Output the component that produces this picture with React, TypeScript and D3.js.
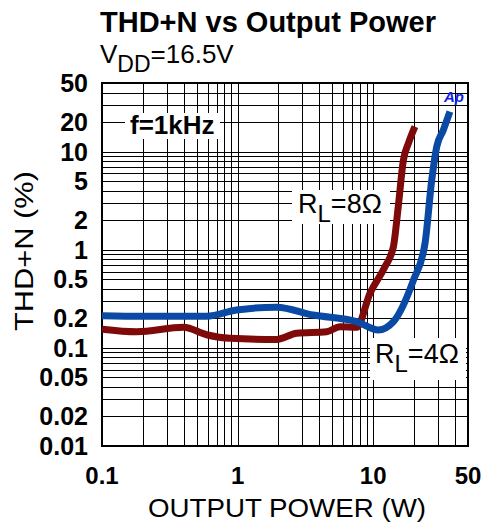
import * as d3 from 'd3'

// THD+N (%) vs output power (W), f = 1kHz, VDD = 16.5V
const powerRL4 = [0.1, 0.2, 0.59, 0.98, 1.94, 3.6, 7.55, 10.9, 14.1, 19.8, 24.1, 27, 29.4, 32.9, 36.8]
const thdRL4 = [0.213, 0.21, 0.21, 0.243, 0.26, 0.216, 0.185, 0.152, 0.185, 0.49, 1.16, 5.1, 11.2, 16.6, 25.6]

const powerRL8 = [0.1, 0.18, 0.4, 0.59, 0.88, 1.94, 2.73, 4.54, 5.69, 7.55, 9.47, 12.2, 14.1, 15.3, 16.7, 18.2, 20.3]
const thdRL8 = [0.155, 0.146, 0.162, 0.136, 0.125, 0.122, 0.141, 0.146, 0.164, 0.162, 0.36, 0.67, 1.08, 2.75, 8.2, 12.2, 18]

const yTicks = [50, 20, 10, 5, 2, 1, 0.5, 0.2, 0.1, 0.05, 0.02, 0.01]
const xTicks = [0.1, 1, 10, 50]

const W = 489
const H = 527
const m = { top: 83, right: 21, bottom: 81, left: 102 }

export default function App() {
  const x = d3.scaleLog().domain([0.1, 50]).range([m.left, W - m.right])
  const y = d3.scaleLog().domain([0.01, 50]).range([H - m.bottom, m.top])

  // log grid: every integer multiple within each decade
  const xGrid: number[] = []
  for (const dec of [0.1, 1, 10]) for (let k = 1; k <= 9; k++) if (dec * k <= 50) xGrid.push(dec * k)
  const yGrid: number[] = []
  for (const dec of [0.01, 0.1, 1, 10]) for (let k = 1; k <= 9; k++) if (dec * k <= 50) yGrid.push(dec * k)

  const line = d3
    .line<[number, number]>()
    .x((d) => x(d[0]))
    .y((d) => y(d[1]))
    .curve(d3.curveMonotoneX)

  const font = 'Liberation Sans, Arial, sans-serif'
  const [x0, x1] = x.range()
  const [y0, y1] = y.range()

  return (
    <svg width={W} height={H} style={{ position: 'absolute', left: 0, top: 0 }} fontFamily={font}>
      <rect width={W} height={H} fill="#fff" />
      <g stroke="#000" strokeWidth={1}>
        {xGrid.map((v) => (
          <line key={'x' + v} x1={Math.round(x(v)) + 0.5} x2={Math.round(x(v)) + 0.5} y1={y1} y2={y0} />
        ))}
        {yGrid.map((v) => (
          <line key={'y' + v} y1={Math.round(y(v)) + 0.5} y2={Math.round(y(v)) + 0.5} x1={x0} x2={x1} />
        ))}
      </g>
      <rect x={x0} y={y1} width={x1 - x0} height={y0 - y1} fill="none" stroke="#000" strokeWidth={2} />

      {/* labels with white boxes */}
      <rect x={125} y={113} width={95} height={26} fill="#fff" />
      <text x={130} y={134} fontSize={26} fontWeight="bold">f=1kHz</text>

      <rect x={292} y={190} width={98} height={34} fill="#fff" />
      <text x={298} y={213} fontSize={27}>
        R<tspan fontSize={24} dy={9}>L</tspan><tspan dy={-9}>=8Ω</tspan>
      </text>

      <rect x={370} y={338} width={96} height={42} fill="#fff" />
      <text x={375} y={363} fontSize={27}>
        R<tspan fontSize={24} dy={9}>L</tspan><tspan dy={-9}>=4Ω</tspan>
      </text>

      <path
        d={line(powerRL8.map((p, i) => [p, thdRL8[i]] as [number, number])) ?? ''}
        fill="none"
        stroke="#7f0a0a"
        strokeWidth={7}
      />
      <path
        d={line(powerRL4.map((p, i) => [p, thdRL4[i]] as [number, number])) ?? ''}
        fill="none"
        stroke="#0a4aa5"
        strokeWidth={7}
      />
      <text x={444} y={102} fontSize={15} fontWeight="bold" fontStyle="italic" fill="#1020e0">Ap</text>

      {yTicks.map((v) => (
        <text key={v} x={88} y={y(v)} dy="0.36em" textAnchor="end" fontSize={25} fontWeight="bold">
          {v}
        </text>
      ))}
      {xTicks.map((v) => (
        <text key={v} x={x(v)} y={484} textAnchor="middle" fontSize={24} fontWeight="bold">
          {v}
        </text>
      ))}

      <text x={287} y={517} textAnchor="middle" fontSize={25} textLength={278} lengthAdjust="spacingAndGlyphs">
        OUTPUT POWER (W)
      </text>
      <text
        transform="translate(33,251) rotate(-90)"
        textAnchor="middle"
        fontSize={25}
        textLength={160}
        lengthAdjust="spacingAndGlyphs"
      >
        THD+N (%)
      </text>

      <text x={100} y={32} fontSize={29} fontWeight="bold">THD+N vs Output Power</text>
      <text x={100} y={63} fontSize={26}>
        V<tspan fontSize={23} dy={9}>DD</tspan><tspan dy={-9}>=16.5V</tspan>
      </text>
    </svg>
  )
}
